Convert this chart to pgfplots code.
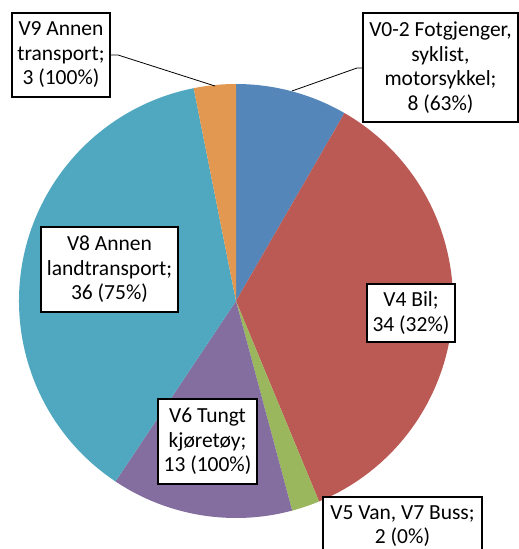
\documentclass[border=0pt]{standalone}
\usepackage{pgfplots}
\pgfplotsset{compat=1.18}
\usepackage{fontspec}
\setmainfont{Carlito}
\definecolor{cA}{RGB}{84,134,186}
\definecolor{cB}{RGB}{187,90,84}
\definecolor{cC}{RGB}{155,183,94}
\definecolor{cD}{RGB}{132,110,160}
\definecolor{cE}{RGB}{79,168,192}
\definecolor{cF}{RGB}{226,152,80}
\begin{document}
\begin{tikzpicture}
\useasboundingbox (0,0) rectangle (519bp,549bp);
\clip (0,0) rectangle (519bp,549bp);
% values (clockwise from top)
\def\vA{8}\def\vB{34}\def\vC{2}\def\vD{13}\def\vE{36}\def\vF{3}
\pgfmathsetmacro\tot{\vA+\vB+\vC+\vD+\vE+\vF}
\pgfmathsetmacro\aA{90}
\pgfmathsetmacro\aB{\aA-360*\vA/\tot}
\pgfmathsetmacro\aC{\aB-360*\vB/\tot}
\pgfmathsetmacro\aD{\aC-360*\vC/\tot}
\pgfmathsetmacro\aE{\aD-360*\vD/\tot}
\pgfmathsetmacro\aF{\aE-360*\vE/\tot}
\pgfmathsetmacro\aG{\aF-360*\vF/\tot}
\def\R{217bp}
\begin{axis}[
  at={(0,0)}, anchor=south west,
  x=1bp, y=1bp,
  xmin=0, xmax=519, ymin=0, ymax=549,
  hide axis, clip=false,
]
\addplot[draw=none, forget plot] coordinates {(236,248)};
\fill[cA] (axis cs:236,248) -- ++(\aA:\R) arc[start angle=\aA, end angle=\aB, radius=\R] -- cycle;
\fill[cB] (axis cs:236,248) -- ++(\aB:\R) arc[start angle=\aB, end angle=\aC, radius=\R] -- cycle;
\fill[cC] (axis cs:236,248) -- ++(\aC:\R) arc[start angle=\aC, end angle=\aD, radius=\R] -- cycle;
\fill[cD] (axis cs:236,248) -- ++(\aD:\R) arc[start angle=\aD, end angle=\aE, radius=\R] -- cycle;
\fill[cE] (axis cs:236,248) -- ++(\aE:\R) arc[start angle=\aE, end angle=\aF, radius=\R] -- cycle;
\fill[cF] (axis cs:236,248) -- ++(\aF:\R) arc[start angle=\aF, end angle=\aG, radius=\R] -- cycle;
% leader lines
\draw[black, line width=0.8bp] (axis cs:110,494) -- (axis cs:118,494) -- (axis cs:215,463);
\draw[black, line width=0.8bp] (axis cs:363,481) -- (axis cs:357,481) -- (axis cs:292,458);
% labels
\tikzset{lab/.style={draw=black, fill=white, line width=1.2bp, inner sep=0pt, align=center,
  font=\fontsize{21.5bp}{24.5bp}\selectfont}}
\node[lab, minimum width=98bp, minimum height=84bp] at (axis cs:61,494) {V9 Annen\\transport;\\3 (100\%)};
\node[lab, minimum width=155bp, minimum height=109bp] at (axis cs:440.5,481.5) {V0-2 Fotgjenger,\\syklist,\\motorsykkel;\\8 (63\%)};
\node[lab, minimum width=88bp, minimum height=58bp] at (axis cs:411,236) {V4 Bil;\\34 (32\%)};
\node[lab, minimum width=99bp, minimum height=85bp] at (axis cs:207.5,107.5) {V6 Tungt\\kjøretøy;\\13 (100\%)};
\node[lab, minimum width=137bp, minimum height=85bp] at (axis cs:109.5,279.5) {V8 Annen\\landtransport;\\36 (75\%)};
\node[lab, minimum width=159bp, minimum height=58bp] at (axis cs:402.5,23) {V5 Van, V7 Buss;\\2 (0\%)};
\end{axis}
\end{tikzpicture}
\end{document}
